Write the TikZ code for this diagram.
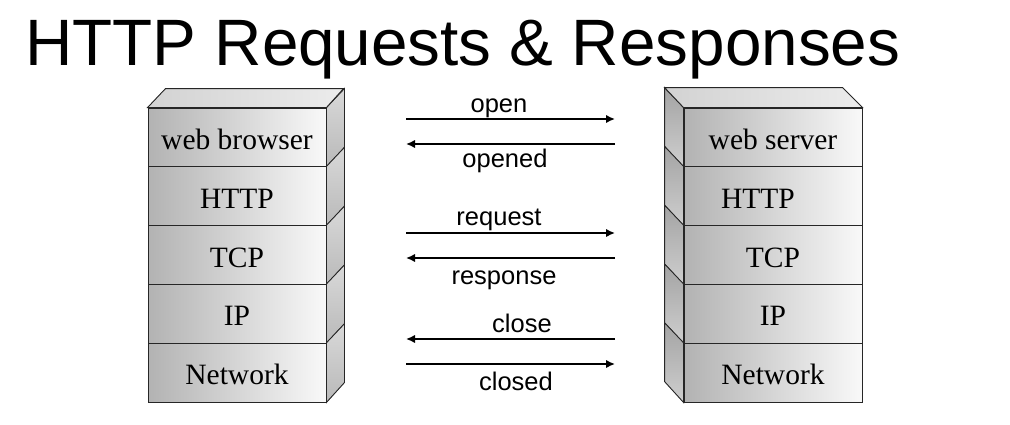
\documentclass[tikz,border=0pt]{standalone}
\usepackage{fontspec}
\setmainfont{Liberation Serif}
\newfontfamily\arialfont{Liberation Sans}
\usetikzlibrary{arrows.meta}
\begin{document}
\begin{tikzpicture}[x=1pt,y=-1pt,
  layerbox/.style={draw=black!85, line width=0.9pt, left color=gray!60, right color=gray!5,
    minimum width=178pt, minimum height=58.8pt, inner sep=0pt,
    text height=24pt, text depth=0pt,
    font=\fontsize{29.5}{31}\selectfont},
  rightside/.style={draw=black!85, line width=0.9pt, top color=gray!30, bottom color=gray!55},
  leftside/.style={draw=black!85, line width=0.9pt, top color=gray!72, bottom color=gray!38},
  topface/.style={draw=black!85, line width=0.9pt, left color=gray!35, right color=gray!15},
  msg/.style={line width=2.3pt, -{Latex[length=9pt,width=8.5pt]}},
  msglabel/.style={anchor=base, inner sep=0pt, font=\arialfont\fontsize{25.5}{27}\selectfont}]
\useasboundingbox (0,0) rectangle (1010,424);
\fill[white] (0,0) rectangle (1010,424);

% title
\node[anchor=base west, inner sep=0pt, font=\arialfont\fontsize{65.6}{70}\selectfont] (title) at (25,65) {HTTP Requests \& Responses};

% left stack
\node[layerbox] (L1) at (237,137.4) {web browser};
\node[layerbox] (L2) at (237,196.2) {HTTP};
\node[layerbox] (L3) at (237,255.0) {TCP};
\node[layerbox] (L4) at (237,313.8) {IP};
\node[layerbox] (L5) at (237,372.6) {Network};
\foreach \n in {L1,L2,L3,L4,L5}{
  \filldraw[rightside] (\n.north east) -- ++(18,-19) -- ++(0,58.8) -- (\n.south east) -- cycle;
}
\filldraw[topface] (L1.north west) -- ++(18,-19) -- ++(178,0) -- (L1.north east) -- cycle;

% right stack
\node[layerbox] (R1) at (773,137.4) {web server};
\node[layerbox] (R2) at (773,196.2) {\hspace*{-30pt}HTTP};
\node[layerbox] (R3) at (773,255.0) {TCP};
\node[layerbox] (R4) at (773,313.8) {IP};
\node[layerbox] (R5) at (773,372.6) {Network};
\foreach \n in {R1,R2,R3,R4,R5}{
  \filldraw[leftside] (\n.north west) -- ++(-19,-20) -- ++(0,58.8) -- (\n.south west) -- cycle;
}
\filldraw[topface] (R1.north west) -- ++(-19,-20) -- ++(178,0) -- (R1.north east) -- cycle;

% message endpoints
\coordinate (c1) at (406,119); \coordinate (s1) at (615,119);
\coordinate (c2) at (406,144); \coordinate (s2) at (615,144);
\coordinate (c3) at (406,233); \coordinate (s3) at (615,233);
\coordinate (c4) at (406,258); \coordinate (s4) at (615,258);
\coordinate (c5) at (406,339); \coordinate (s5) at (615,339);
\coordinate (c6) at (406,364); \coordinate (s6) at (615,364);

\draw[msg] (c1) -- (s1);
\draw[msg] (s2) -- (c2);
\draw[msg] (c3) -- (s3);
\draw[msg] (s4) -- (c4);
\draw[msg] (s5) -- (c5);
\draw[msg] (c6) -- (s6);

\node[msglabel] (t1) at (499,112) {open};
\node[msglabel] (t2) at (505,167) {opened};
\node[msglabel] (t3) at (499,225) {request};
\node[msglabel] (t4) at (504,284) {response};
\node[msglabel] (t5) at (522,332) {close};
\node[msglabel] (t6) at (516,390) {closed};
\end{tikzpicture}
\end{document}
